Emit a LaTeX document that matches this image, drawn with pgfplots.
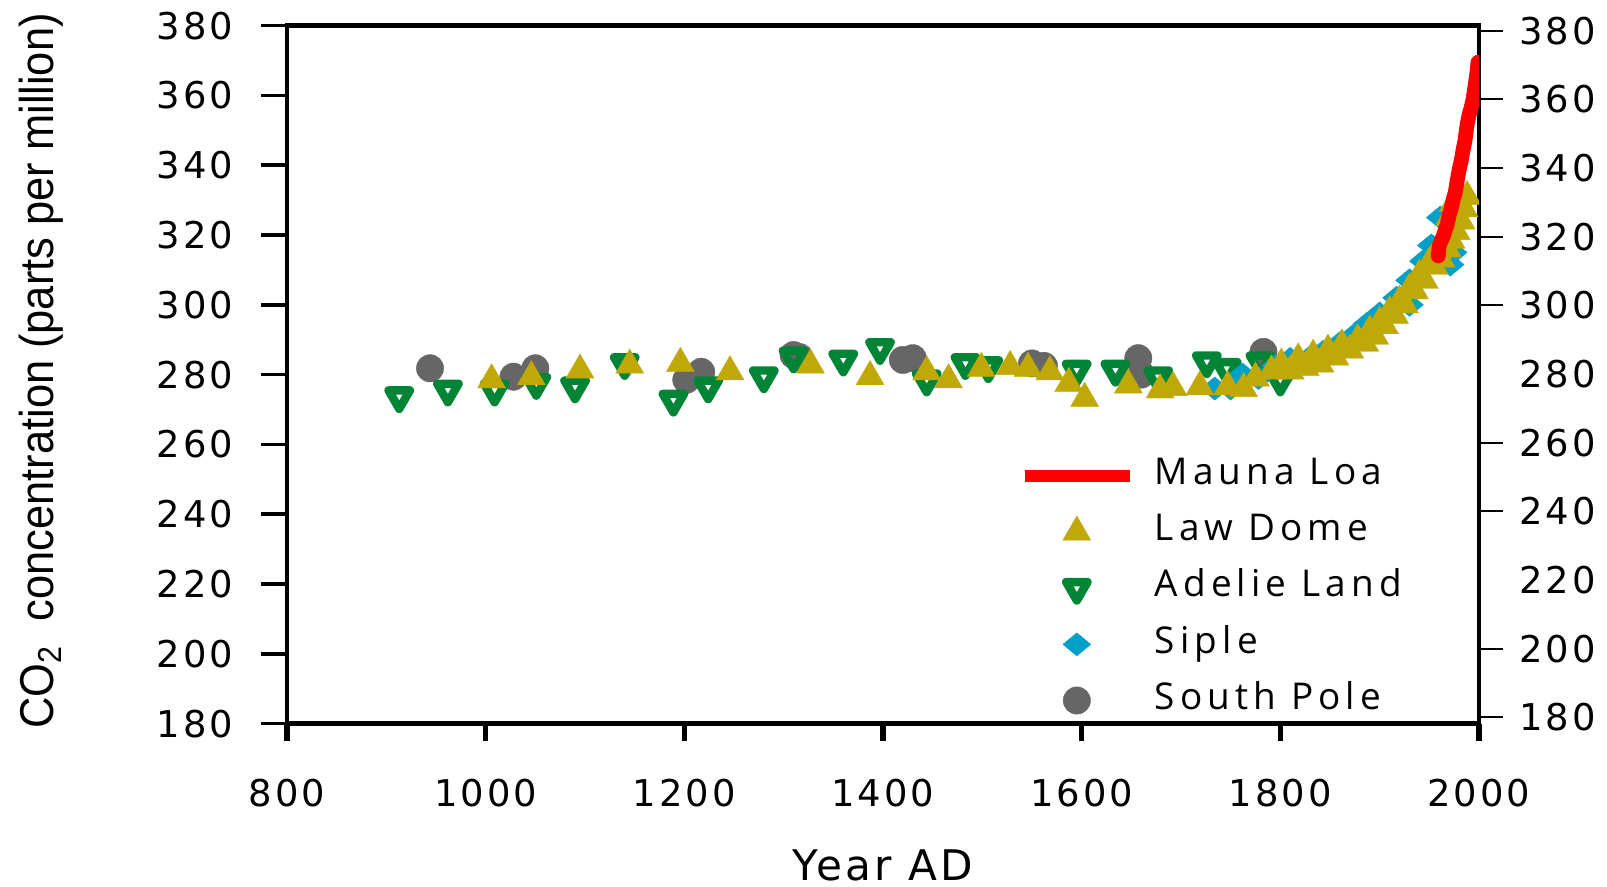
\documentclass[border=0pt]{standalone}
\usepackage{fontspec}
\setmainfont{DejaVu Sans}
\newfontfamily\tickfont[LetterSpace=8]{DejaVu Sans}
\newfontfamily\legfont[LetterSpace=14]{Open Sans}
\newfontfamily\labfont{Liberation Sans}
\usepackage{graphicx}
\usepackage{pgfplots}
\pgfplotsset{compat=1.18}

\definecolor{lawgold}{RGB}{192,168,8}
\definecolor{adeliegreen}{RGB}{0,133,55}
\definecolor{sipleblue}{RGB}{0,160,200}
\definecolor{polegray}{RGB}{102,102,102}

% marker styles, shared by plots and legend
\pgfplotsset{
  lawdome/.style={lawgold, only marks, mark=triangle*, mark size=4.6pt,
    mark options={solid, draw=lawgold, fill=lawgold, line width=0.1pt}},
  adelie/.style={adeliegreen, only marks, mark=triangle, mark size=3.5pt,
    mark options={solid, rotate=180, draw=adeliegreen, fill=white, line width=2.4pt, line join=round}},
  siple/.style={sipleblue, only marks, mark=diamond*, mark size=3.3pt,
    mark options={solid, draw=sipleblue, fill=sipleblue, line width=0.1pt, xscale=1.6}},
  southpole/.style={polegray, only marks, mark=*, mark size=3.9pt,
    mark options={solid, draw=polegray, fill=polegray, line width=0.1pt}},
  maunaloa/.style={red, line width=4.2pt, line cap=round, no marks},
  markleg/.style={legend image code/.code={\draw[##1] plot coordinates {(0.52cm,0cm)};}},
  lineleg/.style={legend image code/.code={\draw[##1, line width=3.4pt, line cap=butt] (0cm,0cm) -- (1.05cm,0cm);}},
}

\begin{document}
\begin{tikzpicture}
\path[use as bounding box] (-2.87cm,-1.634cm) rectangle (13.2cm,7.236cm);

% main axis: data, left ticks, bottom labels
\begin{axis}[
  at={(0,0)}, anchor=south west,
  width=11.92cm, height=6.98cm, scale only axis,
  xmin=800, xmax=2000, ymin=180, ymax=380,
  clip marker paths=true,
  xtick={800,1000,...,2000}, ytick={180,200,...,380},
  xtick pos=bottom, ytick pos=left, tick align=outside,
  major tick length=0.26cm,
  xtick style={draw=none},
  ytick style={black, line width=1pt},
  axis line style={line width=1.3pt},
  /pgf/number format/assume math mode=true,
  /pgf/number format/1000 sep={},
  ticklabel style={font=\tickfont\fontsize{10.5}{12}\selectfont, inner sep=0pt},
  yticklabel style={xshift=-0.27cm},
  xticklabel style={yshift=-0.29cm},
  xlabel={\tickfont\fontsize{12}{14}\selectfont Year AD},
  xlabel style={at={(axis description cs:0.5,-0.203)}, anchor=center},
  ylabel={\labfont\fontsize{13.5}{15}\selectfont\scalebox{0.915}[1]{CO\textsubscript{2}\ \ concentration (parts per million)}},
  ylabel style={at={(axis description cs:-0.206,0.505)}, anchor=center},
  legend style={draw=none, fill=none, at={(rel axis cs:0.614,0.380)}, anchor=north west,
    inner sep=0pt, outer sep=0pt, row sep=0.21cm, column sep=0.19cm,
    font=\legfont\fontsize{10.5}{12}\selectfont,
    nodes={inner sep=0pt, text height=7.5pt, text depth=2.5pt}},
  legend cell align=left,
]
\addlegendimage{maunaloa, lineleg}
\addlegendentry{Mauna Loa}
\addlegendimage{lawdome, markleg}
\addlegendentry{Law Dome}
\addlegendimage{adelie, markleg}
\addlegendentry{Adelie Land}
\addlegendimage{siple, markleg}
\addlegendentry{Siple}
\addlegendimage{southpole, markleg}
\addlegendentry{South Pole}

% South Pole
\addplot[southpole, forget plot] coordinates {
(944,281.8) (1028,279.4) (1050,281.8) (1202,278.5) (1217,280.8)
(1310,285.6) (1316,285.0) (1420,284.2) (1430,284.7) (1550,283.2)
(1562,282.5) (1657,284.7) (1660,280.0) (1783,286.5)
};
% Adelie Land
\addplot[adelie, forget plot] coordinates {
(913,273.7) (962,275.6) (1009,275.6) (1051,277.5) (1090,276.5)
(1140,283.2) (1189,272.7) (1224,276.5) (1280,279.4) (1310,285.1)
(1360,284.2) (1397,287.5) (1444,278.5) (1483,283.2) (1506,282.3)
(1595,281.3) (1634,281.3) (1677,279.4) (1726,283.7) (1746,281.8)
(1780,283.7) (1800,278.5)
};
% Siple
\addplot[siple, forget plot] coordinates {
(1734,276.0) (1750,276.0) (1762,280.0) (1778,279.0) (1795,282.5)
(1810,284.5) (1816,283.0) (1830,285.0) (1843,286.5) (1860,289.0)
(1873,291.0) (1887,294.5) (1900,297.5) (1917,302.0) (1930,307.0)
(1930,300.0) (1944,312.5) (1952,317.0) (1961,325.0) (1971,311.5)
(1974,315.0)
};
% Law Dome
\addplot[lawdome, forget plot] coordinates {
(1006,278.5) (1046,279.4) (1095,281.3) (1145,282.7) (1196,283.2)
(1246,280.8) (1327,282.7) (1387,279.4) (1444,280.8) (1466,278.5)
(1499,281.8) (1528,282.3) (1546,281.8) (1568,280.8) (1587,277.5)
(1603,273.2) (1647,277.0) (1679,275.6) (1692,276.3) (1719,276.5)
(1747,276.5) (1763,276.0) (1775,279.0) (1791,281.0) (1801,283.0)
(1810,281.0) (1818,284.5) (1825,282.0) (1833,285.5) (1840,283.0)
(1848,287.0) (1855,285.0) (1862,288.5) (1870,287.0) (1878,290.0)
(1885,289.0) (1890,292.5) (1895,291.0) (1900,295.0) (1905,294.0)
(1910,298.0) (1915,297.0) (1920,301.0) (1925,300.0) (1930,304.5)
(1935,304.0) (1940,308.5) (1945,307.0) (1950,312.0) (1955,311.0)
(1958,315.5) (1962,313.0) (1965,319.0) (1968,316.0) (1970,325.0)
(1972,318.5) (1974,329.0) (1977,321.0) (1980,331.0) (1982,324.0)
(1985,327.5) (1988,331.0)
};
% Mauna Loa
\addplot[maunaloa, forget plot] coordinates {
(1959,314.0) (1960,316.9) (1962,318.4) (1964,319.6) (1966,321.4)
(1968,323.0) (1970,325.7) (1972,327.5) (1974,330.2) (1976,332.0)
(1978,335.4) (1980,338.7) (1982,341.1) (1984,344.4) (1986,347.2)
(1988,351.6) (1990,354.4) (1992,356.4) (1994,358.8) (1996,362.6)
(1998,366.7) (1999,369.5)
};
\end{axis}

% right axis: slightly offset scale, as in the original
\begin{axis}[
  at={(0,0)}, anchor=south west,
  width=11.92cm, height=6.98cm, scale only axis,
  xmin=800, xmax=2000, ymin=178.2, ymax=381.5,
  xtick=\empty,
  ytick={180,200,240,260,300,320,340,360,380},
  extra y ticks={220,280},
  extra y tick style={tick style={draw=none}},
  ytick pos=right, tick align=outside,
  major tick length=0.24cm,
  ytick style={black, line width=0.6pt},
  axis line style={draw=none},
  /pgf/number format/assume math mode=true,
  ticklabel style={font=\tickfont\fontsize{10.5}{12}\selectfont, inner sep=0pt},
  yticklabel style={xshift=0.155cm},
]
\end{axis}

% bottom ticks: short and heavy
\begin{axis}[
  at={(0,0)}, anchor=south west,
  width=11.92cm, height=6.98cm, scale only axis,
  xmin=800, xmax=2000, ymin=180, ymax=380,
  xtick={800,1000,...,2000}, ytick=\empty, xticklabels={},
  xtick pos=bottom, tick align=outside,
  major tick length=0.17cm,
  xtick style={black, line width=1.6pt},
  axis line style={draw=none},
]
\end{axis}
\end{tikzpicture}
\end{document}
